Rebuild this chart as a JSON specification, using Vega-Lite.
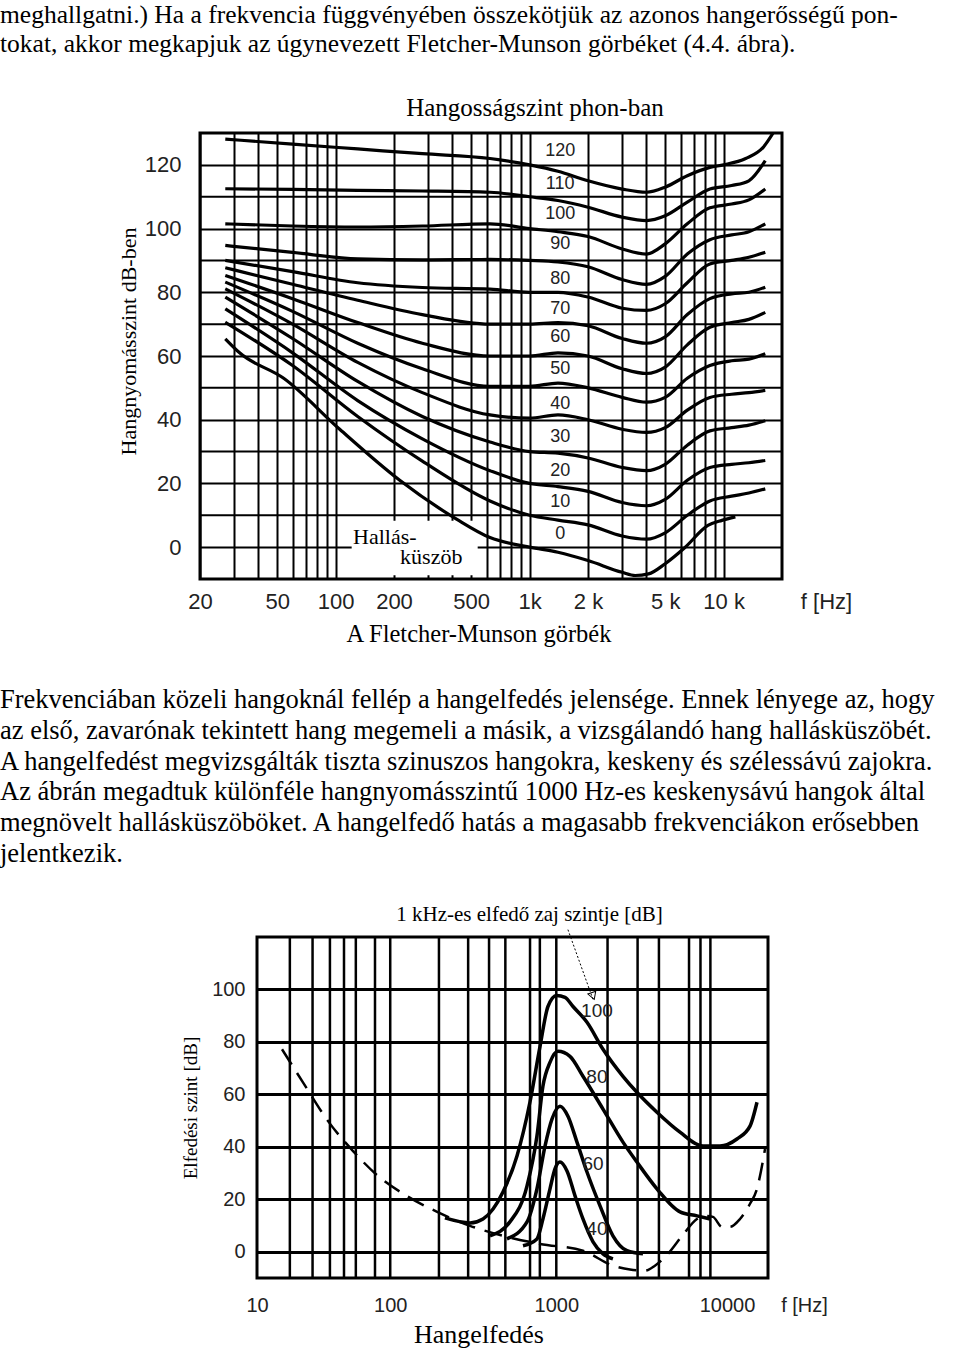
{
  "$schema": "https://vega.github.io/schema/vega-lite/v6.json",
  "padding": 0,
  "background": "white",
  "spacing": 0,
  "config": {"view": {"stroke": null}, "axis": {"labelOverlap": false}},
  "vconcat": [
    {
      "width": 958, "height": 94,
      "data": {"values": [
        {"line": 1, "text": "meghallgatni.) Ha a frekvencia függvényében összekötjük az azonos hangerősségű pon-"},
        {"line": 2, "text": "tokat, akkor megkapjuk az úgynevezett Fletcher-Munson görbéket (4.4. ábra)."}
      ]},
      "mark": {"type": "text", "align": "left", "baseline": "middle", "font": "Liberation Serif", "fontSize": 25.5, "color": "black"},
      "encoding": {
        "x": {"datum": 0, "type": "quantitative", "scale": {"domain": [0, 1]}, "axis": null},
        "y": {"field": "line", "type": "quantitative", "scale": {"domain": [0.5, 3.741], "reverse": true, "nice": false, "zero": false}, "axis": null},
        "text": {"field": "text"}
      }
    },
    {
      "spacing": 0,
      "hconcat": [
        {"width": 115, "height": 1, "data": {"values": [{}]}, "mark": "text", "encoding": {"text": {"value": ""}}},
        {
          "width": 582, "height": 446,
          "view": {"stroke": "black", "strokeWidth": 3},
          "title": {"text": "Hangosságszint phon-ban", "font": "Liberation Serif", "fontSize": 25, "fontWeight": "normal", "color": "black", "offset": 12, "frame": "group", "dx": 44},
          "layer": [
            {
              "data": {"values": [{"db": 10}, {"db": 30}, {"db": 50}, {"db": 70}, {"db": 90}, {"db": 110}]},
              "mark": {"type": "rule", "color": "black", "strokeWidth": 2},
              "encoding": {"y": {"field": "db", "type": "quantitative"}}
            },
            {
              "data": {"values": [{"f": 121, "f2": 540, "db": -8.8, "db2": 8.3}]},
              "mark": {"type": "rect", "color": "white", "opacity": 1},
              "encoding": {
                "x": {"field": "f", "type": "quantitative"}, "x2": {"field": "f2"},
                "y": {"field": "db", "type": "quantitative"}, "y2": {"field": "db2"}
              }
            },
            {
              "data": {"values": [
                {"phon":120,"f":27,"db":128.1},{"phon":120,"f":60,"db":126.5},{"phon":120,"f":130,"db":125},{"phon":120,"f":280,"db":123.5},{"phon":120,"f":625,"db":122},{"phon":120,"f":1000,"db":120},{"phon":120,"f":1400,"db":118},{"phon":120,"f":2000,"db":115},{"phon":120,"f":3000,"db":112.4},{"phon":120,"f":4000,"db":111.4},{"phon":120,"f":5000,"db":113},{"phon":120,"f":6500,"db":116.6},{"phon":120,"f":8500,"db":119.2},{"phon":120,"f":10000,"db":120},{"phon":120,"f":13000,"db":122},{"phon":120,"f":16000,"db":125.5},{"phon":120,"f":18000,"db":130},
                {"phon":110,"f":27,"db":112.5},{"phon":110,"f":60,"db":112.3},{"phon":110,"f":130,"db":112},{"phon":110,"f":280,"db":111.8},{"phon":110,"f":625,"db":111.4},{"phon":110,"f":1000,"db":110},{"phon":110,"f":1400,"db":108.8},{"phon":110,"f":2000,"db":106.7},{"phon":110,"f":3000,"db":103.6},{"phon":110,"f":4000,"db":102.5},{"phon":110,"f":5000,"db":104},{"phon":110,"f":6500,"db":108.3},{"phon":110,"f":8500,"db":112.4},{"phon":110,"f":11000,"db":113.5},{"phon":110,"f":13500,"db":115},{"phon":110,"f":16400,"db":121.3},
                {"phon":100,"f":27,"db":101.5},{"phon":100,"f":60,"db":100.8},{"phon":100,"f":130,"db":100.5},{"phon":100,"f":280,"db":100.8},{"phon":100,"f":625,"db":101.5},{"phon":100,"f":1000,"db":100},{"phon":100,"f":1400,"db":99},{"phon":100,"f":2000,"db":97.5},{"phon":100,"f":3000,"db":93.6},{"phon":100,"f":4000,"db":92},{"phon":100,"f":5000,"db":95.2},{"phon":100,"f":6500,"db":101.5},{"phon":100,"f":8500,"db":106.5},{"phon":100,"f":11000,"db":107.7},{"phon":100,"f":13500,"db":109},{"phon":100,"f":16400,"db":112.4},
                {"phon":90,"f":27,"db":94.7},{"phon":90,"f":60,"db":92.5},{"phon":90,"f":130,"db":90.5},{"phon":90,"f":280,"db":90.2},{"phon":90,"f":625,"db":90.3},{"phon":90,"f":1000,"db":90},{"phon":90,"f":1400,"db":89.5},{"phon":90,"f":2000,"db":88},{"phon":90,"f":3000,"db":84},{"phon":90,"f":4000,"db":82.5},{"phon":90,"f":5000,"db":85},{"phon":90,"f":6500,"db":92},{"phon":90,"f":8500,"db":96.5},{"phon":90,"f":11000,"db":98},{"phon":90,"f":13500,"db":99},{"phon":90,"f":16400,"db":101.5},
                {"phon":80,"f":27,"db":90},{"phon":80,"f":60,"db":86.5},{"phon":80,"f":130,"db":83},{"phon":80,"f":280,"db":81.5},{"phon":80,"f":625,"db":81},{"phon":80,"f":1000,"db":80},{"phon":80,"f":1400,"db":80},{"phon":80,"f":2000,"db":78.5},{"phon":80,"f":3000,"db":75},{"phon":80,"f":4000,"db":74.3},{"phon":80,"f":5000,"db":76.4},{"phon":80,"f":6500,"db":83},{"phon":80,"f":8500,"db":88.9},{"phon":80,"f":11000,"db":90},{"phon":80,"f":13500,"db":91},{"phon":80,"f":16400,"db":92.6},
                {"phon":70,"f":27,"db":87.7},{"phon":70,"f":60,"db":82.5},{"phon":70,"f":130,"db":77.5},{"phon":70,"f":280,"db":73},{"phon":70,"f":625,"db":70},{"phon":70,"f":1000,"db":70},{"phon":70,"f":1400,"db":70.5},{"phon":70,"f":2000,"db":69.5},{"phon":70,"f":3000,"db":65.5},{"phon":70,"f":4000,"db":64},{"phon":70,"f":5000,"db":66},{"phon":70,"f":6500,"db":73},{"phon":70,"f":8500,"db":78},{"phon":70,"f":11000,"db":79.5},{"phon":70,"f":13500,"db":80},{"phon":70,"f":16400,"db":81.6},
                {"phon":60,"f":27,"db":85.3},{"phon":60,"f":60,"db":78},{"phon":60,"f":130,"db":70.5},{"phon":60,"f":280,"db":64},{"phon":60,"f":625,"db":60},{"phon":60,"f":1000,"db":60},{"phon":60,"f":1400,"db":61},{"phon":60,"f":2000,"db":60},{"phon":60,"f":3000,"db":56},{"phon":60,"f":4000,"db":54.5},{"phon":60,"f":5000,"db":56.5},{"phon":60,"f":6500,"db":63.5},{"phon":60,"f":8500,"db":69},{"phon":60,"f":11000,"db":70.5},{"phon":60,"f":13500,"db":71.5},{"phon":60,"f":16400,"db":73.7},
                {"phon":50,"f":27,"db":83.2},{"phon":50,"f":60,"db":74},{"phon":50,"f":130,"db":64},{"phon":50,"f":280,"db":56},{"phon":50,"f":625,"db":50.5},{"phon":50,"f":1000,"db":50.5},{"phon":50,"f":1400,"db":51.5},{"phon":50,"f":2000,"db":50},{"phon":50,"f":3000,"db":47},{"phon":50,"f":4000,"db":45.5},{"phon":50,"f":5000,"db":47},{"phon":50,"f":6500,"db":53},{"phon":50,"f":8500,"db":57},{"phon":50,"f":11000,"db":58.5},{"phon":50,"f":13500,"db":59},{"phon":50,"f":16400,"db":60.7},
                {"phon":40,"f":27,"db":81.1},{"phon":40,"f":60,"db":70},{"phon":40,"f":130,"db":58},{"phon":40,"f":280,"db":48.5},{"phon":40,"f":625,"db":41.5},{"phon":40,"f":1000,"db":40.5},{"phon":40,"f":1400,"db":41.5},{"phon":40,"f":2000,"db":40},{"phon":40,"f":3000,"db":37},{"phon":40,"f":4000,"db":36},{"phon":40,"f":5000,"db":37.5},{"phon":40,"f":6500,"db":43},{"phon":40,"f":8500,"db":47},{"phon":40,"f":11000,"db":48},{"phon":40,"f":13500,"db":48.5},{"phon":40,"f":16400,"db":49.2},
                {"phon":30,"f":27,"db":78.5},{"phon":30,"f":60,"db":65.5},{"phon":30,"f":130,"db":52},{"phon":30,"f":280,"db":41},{"phon":30,"f":625,"db":33},{"phon":30,"f":1000,"db":30},{"phon":30,"f":1400,"db":29.5},{"phon":30,"f":2000,"db":28},{"phon":30,"f":3000,"db":25},{"phon":30,"f":4000,"db":24},{"phon":30,"f":5000,"db":26},{"phon":30,"f":6500,"db":32},{"phon":30,"f":8500,"db":36.5},{"phon":30,"f":11000,"db":37.5},{"phon":30,"f":13500,"db":38.3},{"phon":30,"f":16400,"db":39.7},
                {"phon":20,"f":27,"db":74.8},{"phon":20,"f":60,"db":61},{"phon":20,"f":130,"db":46},{"phon":20,"f":280,"db":34},{"phon":20,"f":625,"db":24},{"phon":20,"f":1000,"db":20},{"phon":20,"f":1400,"db":19},{"phon":20,"f":2000,"db":17.5},{"phon":20,"f":3000,"db":14},{"phon":20,"f":4000,"db":13},{"phon":20,"f":5000,"db":15},{"phon":20,"f":6500,"db":21},{"phon":20,"f":8500,"db":25},{"phon":20,"f":11000,"db":26},{"phon":20,"f":13500,"db":26.5},{"phon":20,"f":16400,"db":27.2},
                {"phon":10,"f":27,"db":70.6},{"phon":10,"f":60,"db":57},{"phon":10,"f":130,"db":41},{"phon":10,"f":280,"db":27},{"phon":10,"f":625,"db":14.5},{"phon":10,"f":1000,"db":10},{"phon":10,"f":1400,"db":8.5},{"phon":10,"f":2000,"db":7},{"phon":10,"f":3000,"db":3.5},{"phon":10,"f":4000,"db":2.5},{"phon":10,"f":5000,"db":4.5},{"phon":10,"f":6500,"db":10},{"phon":10,"f":8500,"db":14.5},{"phon":10,"f":11000,"db":16},{"phon":10,"f":13500,"db":17},{"phon":10,"f":16400,"db":18.3},
                {"phon":0,"f":27,"db":65.4},{"phon":0,"f":32,"db":61},{"phon":0,"f":54,"db":53},{"phon":0,"f":105,"db":37},{"phon":0,"f":214,"db":21},{"phon":0,"f":420,"db":8.8},{"phon":0,"f":625,"db":3},{"phon":0,"f":1000,"db":0},{"phon":0,"f":1400,"db":-1.6},{"phon":0,"f":2000,"db":-4.2},{"phon":0,"f":3000,"db":-7.9},{"phon":0,"f":3500,"db":-8.9},{"phon":0,"f":4100,"db":-8.4},{"phon":0,"f":5000,"db":-5.2},{"phon":0,"f":6300,"db":-0.2},{"phon":0,"f":8300,"db":6.8},{"phon":0,"f":9800,"db":8.4},{"phon":0,"f":11500,"db":9.5}
              ]},
              "mark": {"type": "line", "color": "black", "strokeWidth": 3.2, "interpolate": "monotone", "clip": true},
              "encoding": {
                "x": {"field": "f", "type": "quantitative",
                  "scale": {"type": "log", "domain": [20, 20000], "nice": false},
                  "axis": {"values": [20,30,40,50,60,70,80,90,100,200,300,400,500,600,700,800,900,1000,2000,3000,4000,5000,6000,7000,8000,9000,10000],
                    "grid": true, "gridColor": "black", "gridWidth": 2, "gridOpacity": 1, "domain": false, "ticks": false,
                    "labelExpr": "datum.value == 20 ? '20' : datum.value == 50 ? '50' : datum.value == 100 ? '100' : datum.value == 200 ? '200' : datum.value == 500 ? '500' : datum.value == 1000 ? '1k' : datum.value == 2000 ? '2 k' : datum.value == 5000 ? '5 k' : datum.value == 10000 ? '10 k' : ''",
                    "labelFont": "Liberation Sans", "labelFontSize": 22, "labelColor": "#222", "labelPadding": 12, "labelFlush": false, "labelOverlap": false,
                    "title": "f [Hz]", "titleFont": "Liberation Sans", "titleFontSize": 22, "titleFontWeight": "normal", "titleColor": "#222",
                    "titleX": 626, "titleY": 22, "titleBaseline": "middle", "titleAlign": "center", "titleAngle": 0}},
                "y": {"field": "db", "type": "quantitative",
                  "scale": {"domain": [-10, 130], "nice": false, "zero": false},
                  "axis": {"values": [0,20,40,60,80,100,120],
                    "grid": true, "gridColor": "black", "gridWidth": 2, "gridOpacity": 1, "domain": false, "ticks": false,
                    "labelFont": "Liberation Sans", "labelFontSize": 22, "labelColor": "#222", "labelPadding": 19, "labelOverlap": false,
                    "title": "Hangnyomásszint dB-ben", "titleFont": "Liberation Serif", "titleFontSize": 22, "titleFontWeight": "normal", "titleColor": "black", "titlePadding": 4, "titleY": 208}},
                "detail": {"field": "phon"}
              }
            },
            {
              "data": {"values": [
                {"f":1438,"db":124.5,"t":"120"},{"f":1438,"db":114,"t":"110"},{"f":1438,"db":104.6,"t":"100"},{"f":1438,"db":95.2,"t":"90"},
                {"f":1438,"db":84.2,"t":"80"},{"f":1438,"db":74.8,"t":"70"},{"f":1438,"db":65.9,"t":"60"},{"f":1438,"db":56,"t":"50"},
                {"f":1438,"db":45,"t":"40"},{"f":1438,"db":34.5,"t":"30"},{"f":1438,"db":24,"t":"20"},{"f":1438,"db":14.1,"t":"10"},{"f":1438,"db":4.2,"t":"0"}
              ]},
              "mark": {"type": "text", "font": "Liberation Sans", "fontSize": 18, "color": "#222", "baseline": "middle"},
              "encoding": {
                "x": {"field": "f", "type": "quantitative"},
                "y": {"field": "db", "type": "quantitative"},
                "text": {"field": "t"}
              }
            },
            {
              "data": {"values": [
                {"f":123,"db":3.1,"t":"Hallás-"},{"f":215,"db":-3.1,"t":"küszöb"}
              ]},
              "mark": {"type": "text", "font": "Liberation Serif", "fontSize": 22, "color": "black", "align": "left", "baseline": "middle"},
              "encoding": {
                "x": {"field": "f", "type": "quantitative"},
                "y": {"field": "db", "type": "quantitative"},
                "text": {"field": "t"}
              }
            }
          ]
        }
      ]
    },
    {
      "width": 958, "height": 42,
      "data": {"values": [{"t": "A Fletcher-Munson görbék"}]},
      "mark": {"type": "text", "font": "Liberation Serif", "fontSize": 24.5, "color": "black", "baseline": "middle"},
      "encoding": {"text": {"field": "t"}}
    },
    {
      "width": 958, "height": 246,
      "data": {"values": [
        {"line": 1, "text": "Frekvenciában közeli hangoknál fellép a hangelfedés jelensége. Ennek lényege az, hogy"},
        {"line": 2, "text": "az első, zavarónak tekintett hang megemeli a másik, a vizsgálandó hang hallásküszöbét."},
        {"line": 3, "text": "A hangelfedést megvizsgálták tiszta szinuszos hangokra, keskeny és szélessávú zajokra."},
        {"line": 4, "text": "Az ábrán megadtuk különféle hangnyomásszintű 1000 Hz-es keskenysávú hangok által"},
        {"line": 5, "text": "megnövelt hallásküszöböket. A hangelfedő hatás a magasabb frekvenciákon erősebben"},
        {"line": 6, "text": "jelentkezik."}
      ]},
      "mark": {"type": "text", "align": "left", "baseline": "middle", "font": "Liberation Serif", "fontSize": 26.5, "color": "black"},
      "encoding": {
        "x": {"datum": 0, "type": "quantitative", "scale": {"domain": [0, 1]}, "axis": null},
        "y": {"field": "line", "type": "quantitative", "scale": {"domain": [-0.4286, 7.558], "reverse": true, "nice": false, "zero": false}, "axis": null},
        "text": {"field": "text"}
      }
    },
    {
      "spacing": 0,
      "hconcat": [
        {"width": 180, "height": 1, "data": {"values": [{}]}, "mark": "text", "encoding": {"text": {"value": ""}}},
        {
          "width": 511, "height": 341,
          "view": {"stroke": "black", "strokeWidth": 3},
          "title": {"text": "1 kHz-es elfedő zaj szintje [dB]", "font": "Liberation Serif", "fontSize": 21, "fontWeight": "normal", "color": "black", "offset": 3, "frame": "group", "dx": 17},
          "layer": [
            {
              "data": {"values": [{"f":20},{"f":30},{"f":40},{"f":50},{"f":60},{"f":80},{"f":100},{"f":200},{"f":300},{"f":400},{"f":500},{"f":700},{"f":800},{"f":1000},{"f":2000},{"f":3000},{"f":4000},{"f":6000},{"f":7000},{"f":8000}]},
              "mark": {"type": "rule", "color": "black", "strokeWidth": 2.5},
              "encoding": {"x": {"field": "f", "type": "quantitative"}}
            },
            {
              "data": {"values": [
                {"c":"100","f":217.5,"db":12.9},{"c":"100","f":308,"db":11.0},{"c":"100","f":368,"db":12.5},{"c":"100","f":484,"db":22.8},{"c":"100","f":586,"db":36.5},{"c":"100","f":699,"db":57.0},{"c":"100","f":802,"db":78.3},{"c":"100","f":893,"db":93.5},{"c":"100","f":1005,"db":97.7},{"c":"100","f":1125,"db":97},{"c":"100","f":1254,"db":93.5},{"c":"100","f":1515,"db":87.5},{"c":"100","f":1881,"db":77.2},{"c":"100","f":2463,"db":66.9},{"c":"100","f":2973,"db":60.8},{"c":"100","f":3894,"db":53.2},{"c":"100","f":5313,"db":45.6},{"c":"100","f":7240,"db":40.3},{"c":"100","f":9104,"db":40.3},{"c":"100","f":11440,"db":43},{"c":"100","f":13635,"db":47.9},{"c":"100","f":14980,"db":57},
                {"c":"80","f":405,"db":6.1},{"c":"80","f":532,"db":11.4},{"c":"80","f":672,"db":25.1},{"c":"80","f":769,"db":44.1},{"c":"80","f":834,"db":63.1},{"c":"80","f":918,"db":72.2},{"c":"80","f":1023,"db":76.4},{"c":"80","f":1203,"db":74.5},{"c":"80","f":1435,"db":66.9},{"c":"80","f":1881,"db":54.4},{"c":"80","f":2463,"db":41.8},{"c":"80","f":2973,"db":34.2},{"c":"80","f":3894,"db":24},{"c":"80","f":5313,"db":15.2},{"c":"80","f":6676,"db":13.7},{"c":"80","f":7957,"db":12.5},
                {"c":"60","f":511,"db":4.9},{"c":"60","f":672,"db":11.4},{"c":"60","f":769,"db":24},{"c":"60","f":858,"db":40.3},{"c":"60","f":943,"db":50.6},{"c":"60","f":1051,"db":55.5},{"c":"60","f":1171,"db":51.7},{"c":"60","f":1323,"db":41.8},{"c":"60","f":1515,"db":30.4},{"c":"60","f":1807,"db":17.5},{"c":"60","f":2151,"db":6.1},{"c":"60","f":2601,"db":0.4},{"c":"60","f":3226,"db":-0.8},
                {"c":"40","f":636,"db":2.3},{"c":"40","f":769,"db":4.9},{"c":"40","f":834,"db":12.5},{"c":"40","f":918,"db":24},{"c":"40","f":982,"db":31.6},{"c":"40","f":1051,"db":34.2},{"c":"40","f":1156,"db":30.8},{"c":"40","f":1289,"db":21.3},{"c":"40","f":1435,"db":12.5},{"c":"40","f":1644,"db":3.8},{"c":"40","f":1881,"db":-0.8},{"c":"40","f":2151,"db":-2.7}
              ]},
              "mark": {"type": "line", "color": "black", "strokeWidth": 3.5, "interpolate": "monotone"},
              "encoding": {
                "x": {"field": "f", "type": "quantitative",
                  "scale": {"type": "symlog", "constant": 8, "domain": [10, 17370], "nice": false, "zero": false},
                  "axis": {"values": [10,100,1000,10000],
                    "grid": false, "domain": false, "ticks": false,
                    "labelFont": "Liberation Sans", "labelFontSize": 20, "labelColor": "#222", "labelPadding": 17, "labelFlush": false, "labelOverlap": false, "format": "d",
                    "title": "f [Hz]", "titleFont": "Liberation Sans", "titleFontSize": 20, "titleFontWeight": "normal", "titleColor": "#222",
                    "titleX": 547, "titleY": 27, "titleBaseline": "middle", "titleAlign": "center", "titleAngle": 0}},
                "y": {"field": "db", "type": "quantitative",
                  "scale": {"domain": [-10, 120], "nice": false, "zero": false},
                  "axis": {"values": [0,20,40,60,80,100],
                    "grid": true, "gridColor": "black", "gridWidth": 3, "gridOpacity": 1, "domain": false, "ticks": false,
                    "labelFont": "Liberation Sans", "labelFontSize": 20, "labelColor": "#222", "labelPadding": 12, "labelOverlap": false,
                    "title": "Elfedési szint [dB]", "titleFont": "Liberation Serif", "titleFontSize": 19, "titleFontWeight": "normal", "titleColor": "black", "titlePadding": 11}},
                "detail": {"field": "c"}
              }
            },
            {
              "data": {"values": [
                {"f":17.2,"db":77.2},{"f":25.4,"db":64.6},{"f":38.8,"db":49.8},{"f":57.5,"db":38.4},{"f":83.6,"db":28.9},{"f":127,"db":21.3},{"f":195,"db":15.2},{"f":308,"db":9.9},{"f":484,"db":6.1},{"f":802,"db":3.0},{"f":1435,"db":0.4},{"f":2151,"db":-5.3},{"f":2707,"db":-6.8},{"f":3314,"db":-7.2},{"f":3790,"db":-5.3},{"f":4518,"db":-0.8},{"f":5530,"db":6.5},{"f":6676,"db":12.5},{"f":7437,"db":13.7},{"f":8280,"db":13.3},{"f":9346,"db":9.5},{"f":10414,"db":9.5},{"f":11920,"db":12.5},{"f":13635,"db":18.3},{"f":14980,"db":24},{"f":15810,"db":30.8},{"f":16690,"db":39.2}
              ]},
              "mark": {"type": "line", "color": "black", "strokeWidth": 2.5, "strokeDash": [18, 10], "interpolate": "monotone"},
              "encoding": {
                "x": {"field": "f", "type": "quantitative"},
                "y": {"field": "db", "type": "quantitative"}
              }
            },
            {
              "data": {"values": [{"f":1171,"db":122.8},{"f":1644,"db":96.2}]},
              "mark": {"type": "line", "color": "black", "strokeWidth": 1, "strokeDash": [2, 2], "clip": false},
              "encoding": {
                "x": {"field": "f", "type": "quantitative"},
                "y": {"field": "db", "type": "quantitative"}
              }
            },
            {
              "data": {"values": [{"f":1644,"db":97.5}]},
              "mark": {"type": "point", "shape": "triangle-down", "angle": -20, "size": 70, "filled": false, "color": "black", "strokeWidth": 1, "opacity": 1},
              "encoding": {
                "x": {"field": "f", "type": "quantitative"},
                "y": {"field": "db", "type": "quantitative"}
              }
            },
            {
              "data": {"values": [
                {"f":1733,"db":91.6,"t":"100"},{"f":1733,"db":66.5,"t":"80"},{"f":1644,"db":33.5,"t":"60"},{"f":1733,"db":8.7,"t":"40"}
              ]},
              "mark": {"type": "text", "font": "Liberation Sans", "fontSize": 19, "color": "#222", "baseline": "middle"},
              "encoding": {
                "x": {"field": "f", "type": "quantitative"},
                "y": {"field": "db", "type": "quantitative"},
                "text": {"field": "t"}
              }
            }
          ]
        }
      ]
    },
    {
      "width": 958, "height": 36,
      "data": {"values": [{"t": "Hangelfedés"}]},
      "mark": {"type": "text", "font": "Liberation Serif", "fontSize": 26, "color": "black", "baseline": "middle"},
      "encoding": {"text": {"field": "t"}}
    }
  ]
}
